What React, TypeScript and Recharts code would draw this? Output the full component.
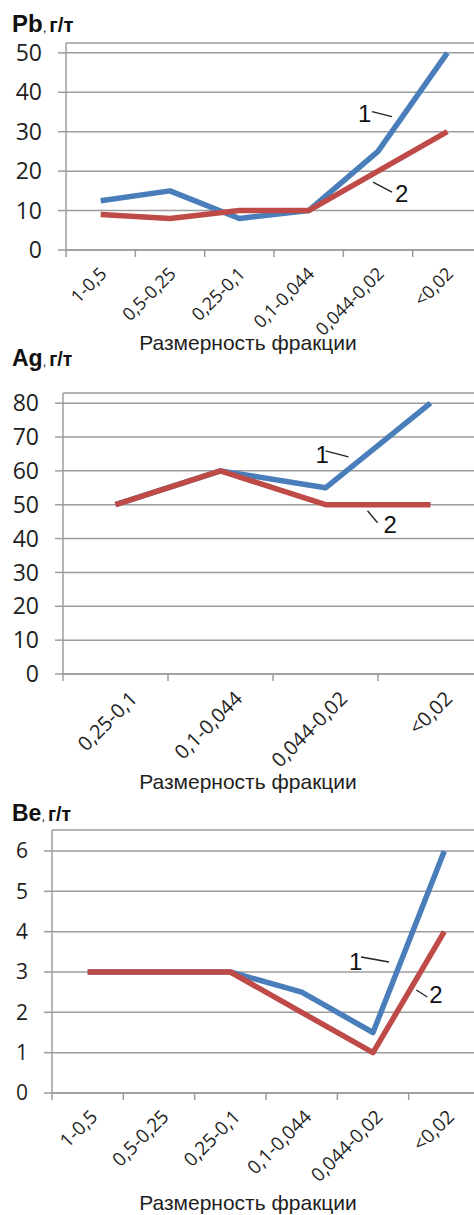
import React from 'react';
import { LineChart, Line, XAxis, YAxis, CartesianGrid, ReferenceDot } from 'recharts';

// Pb, g/t by fraction
const pbCats = ['1-0,5', '0,5-0,25', '0,25-0,1', '0,1-0,044', '0,044-0,02', '<0,02'];
const pbLine1 = [12.5, 15, 8, 10, 25, 50];
const pbLine2 = [9, 8, 10, 10, 20, 30];
const pbTicks = [0, 10, 20, 30, 40, 50];

// Ag, g/t by fraction
const agCats = ['0,25-0,1', '0,1-0,044', '0,044-0,02', '<0,02'];
const agLine1 = [50, 60, 55, 80];
const agLine2 = [50, 60, 50, 50];
const agTicks = [0, 10, 20, 30, 40, 50, 60, 70, 80];

// Be, g/t by fraction
const beCats = ['1-0,5', '0,5-0,25', '0,25-0,1', '0,1-0,044', '0,044-0,02', '<0,02'];
const beLine1 = [3, 3, 3, 2.5, 1.5, 6];
const beLine2 = [3, 3, 3, 2, 1, 4];
const beTicks = [0, 1, 2, 3, 4, 5, 6];

const BLUE = '#4a7ebb';
const RED = '#be4b48';
const GRID = '#9c9c9c';
const INK = '#1e1e1e';
const NUM_FONT = '"Open Sans", "Noto Sans", sans-serif';
const ARIAL = '"Liberation Sans", Arial, sans-serif';

type Note = {
  label: string;
  cat: string;
  value: number;
  tx: number; ty: number;
  lx1: number; ly1: number; lx2: number; ly2: number;
};

type PanelProps = {
  top: number;
  height: number;
  plotTop: number;
  plotBottom: number;
  plotLeft: number;
  plotRight: number;
  cats: string[];
  line1: number[];
  line2: number[];
  yTicks: number[];
  yMax: number;
  yFont: number;
  xFont: number;
  labelDx: number;
  labelDy: number;
  notes: Note[];
};

const W = 490;

// category label plus the Excel-style tick marks between categories
function XLabel({ x, y, payload, index, fontSize, dx, dy, band, count }: any) {
  const px = x + dx;
  const py = y + dy;
  const left = x - band / 2;
  const right = x + band / 2;
  return (
    <g>
      <line x1={left} y1={y} x2={left} y2={y + 7} stroke={GRID} strokeWidth={1.5} />
      {index === count - 1 && (
        <line x1={right} y1={y} x2={right} y2={y + 7} stroke={GRID} strokeWidth={1.5} />
      )}
      <text
        x={px}
        y={py}
        transform={`rotate(-45, ${px}, ${py})`}
        textAnchor="end"
        fontSize={fontSize}
        fontFamily={NUM_FONT}
        fill={INK}
      >
        {payload.value}
      </text>
    </g>
  );
}

function noteShape(n: Note) {
  return (p: any) => (
    <g>
      <line
        x1={p.cx + n.lx1}
        y1={p.cy + n.ly1}
        x2={p.cx + n.lx2}
        y2={p.cy + n.ly2}
        stroke="#222"
        strokeWidth={1.3}
      />
      <text x={p.cx + n.tx} y={p.cy + n.ty} fontSize={24} fontFamily={ARIAL} fill="#111">
        {n.label}
      </text>
    </g>
  );
}

function Panel(props: PanelProps) {
  const { top, height, plotTop, plotBottom, plotLeft, plotRight, cats, line1, line2 } = props;
  const data = cats.map((c, i) => ({ cat: c, s1: line1[i], s2: line2[i] }));
  const band = (plotRight - plotLeft) / cats.length;
  return (
    <div style={{ position: 'absolute', left: 0, top }}>
      <LineChart
        width={W}
        height={height}
        data={data}
        margin={{ top: plotTop - top, right: W - plotRight, left: 0, bottom: 0 }}
      >
        <CartesianGrid vertical={false} stroke={GRID} strokeWidth={1.5} />
        <XAxis
          dataKey="cat"
          scale="band"
          interval={0}
          height={top + height - plotBottom}
          axisLine={{ stroke: GRID, strokeWidth: 1.5 }}
          tickLine={false}
          tickSize={0}
          tickMargin={0}
          tick={
            <XLabel
              fontSize={props.xFont}
              dx={props.labelDx}
              dy={props.labelDy}
              band={band}
              count={cats.length}
            />
          }
        />
        <YAxis
          width={plotLeft}
          domain={[0, props.yMax]}
          ticks={props.yTicks}
          interval={0}
          allowDataOverflow
          tickSize={8}
          tickMargin={16}
          axisLine={{ stroke: GRID, strokeWidth: 1.5 }}
          tickLine={{ stroke: GRID, strokeWidth: 1.5 }}
          tick={{ fill: INK, fontSize: props.yFont, fontFamily: NUM_FONT }}
        />
        <Line
          dataKey="s1"
          stroke={BLUE}
          strokeWidth={5.5}
          strokeLinejoin="round"
          dot={false}
          activeDot={false}
          isAnimationActive={false}
        />
        <Line
          dataKey="s2"
          stroke={RED}
          strokeWidth={5.5}
          strokeLinejoin="round"
          dot={false}
          activeDot={false}
          isAnimationActive={false}
        />
        {props.notes.map((n) => (
          <ReferenceDot
            key={n.label}
            x={n.cat}
            y={n.value}
            r={0}
            ifOverflow="visible"
            shape={noteShape(n)}
          />
        ))}
      </LineChart>
    </div>
  );
}

function Title({ top, el, size }: { top: number; el: string; size: number }) {
  return (
    <div
      style={{
        position: 'absolute',
        left: 12,
        top,
        fontFamily: ARIAL,
        fontWeight: 'bold',
        fontSize: size,
        lineHeight: `${size}px`,
        color: '#111',
        whiteSpace: 'nowrap',
      }}
    >
      {el}
      <span style={{ fontSize: size * 0.55, fontWeight: 'normal', marginRight: 3 }}>,</span>
      <span style={{ fontSize: size * 0.85 }}>г/т</span>
    </div>
  );
}

function AxisTitle({ top }: { top: number }) {
  return (
    <div
      style={{
        position: 'absolute',
        left: 0,
        width: 496,
        top,
        textAlign: 'center',
        fontFamily: ARIAL,
        fontSize: 21,
        lineHeight: '21px',
        color: INK,
        whiteSpace: 'nowrap',
      }}
    >
      Размерность фракции
    </div>
  );
}

export default function App() {
  return (
    <div
      style={{
        position: 'absolute',
        left: 0,
        top: 0,
        width: 474,
        height: 1215,
        overflow: 'hidden',
        background: '#fff',
      }}
    >
      <Panel
        top={0}
        height={345}
        plotTop={43}
        plotBottom={250}
        plotLeft={66}
        plotRight={482}
        cats={pbCats}
        line1={pbLine1}
        line2={pbLine2}
        yTicks={pbTicks}
        yMax={52.5}
        yFont={23}
        xFont={18}
        labelDx={7}
        labelDy={25}
        notes={[
          { label: '1', cat: '0,044-0,02', value: 30, tx: -20, ty: -10, lx1: -6, ly1: -20, lx2: 14, ly2: -15 },
          { label: '2', cat: '0,044-0,02', value: 20, tx: 17, ty: 31, lx1: -5, ly1: 11, lx2: 14, ly2: 21 },
        ]}
      />
      <Panel
        top={380}
        height={400}
        plotTop={393}
        plotBottom={674}
        plotLeft={63}
        plotRight={483}
        cats={agCats}
        line1={agLine1}
        line2={agLine2}
        yTicks={agTicks}
        yMax={83}
        yFont={23}
        xFont={20}
        labelDx={23}
        labelDy={26}
        notes={[
          { label: '1', cat: '0,044-0,02', value: 60, tx: -10, ty: -8, lx1: 0, ly1: -20, lx2: 23, ly2: -14 },
          { label: '2', cat: '0,044-0,02', value: 50, tx: 58, ty: 28, lx1: 42, ly1: 6, lx2: 52, ly2: 18 },
        ]}
      />
      <Panel
        top={800}
        height={400}
        plotTop={830}
        plotBottom={1093}
        plotLeft={52}
        plotRight={480}
        cats={beCats}
        line1={beLine1}
        line2={beLine2}
        yTicks={beTicks}
        yMax={6.52}
        yFont={21}
        xFont={19}
        labelDx={11}
        labelDy={25}
        notes={[
          { label: '1', cat: '0,044-0,02', value: 3, tx: -24, ty: -2, lx1: -12, ly1: -15, lx2: 16, ly2: -10 },
          { label: '2', cat: '<0,02', value: 3, tx: -15, ty: 31, lx1: -28, ly1: 18, lx2: -17, ly2: 25 },
        ]}
      />
      <Title top={12} el="Pb" size={24} />
      <Title top={347} el="Ag" size={23} />
      <Title top={802} el="Be" size={23} />
      <AxisTitle top={332} />
      <AxisTitle top={771} />
      <AxisTitle top={1192} />
    </div>
  );
}
